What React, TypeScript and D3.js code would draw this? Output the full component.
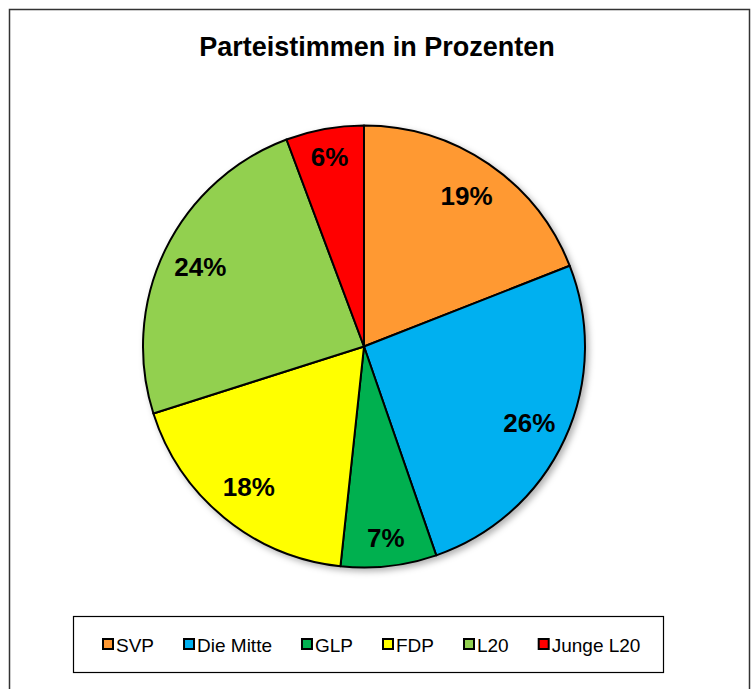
import React from "react";
import * as d3 from "d3";

const categories = ["SVP", "Die Mitte", "GLP", "FDP", "L20", "Junge L20"];
const values = [19.05, 25.65, 7.0, 18.4, 24.2, 5.7];
const colors = ["#FF9933", "#00B0F0", "#00B050", "#FFFF00", "#92D050", "#FF0000"];
const title = "Parteistimmen in Prozenten";

const W = 754;
const H = 689;
const FONT = "'Liberation Sans', Arial, Helvetica, sans-serif";

function measure(text: string, font: string): number {
  const c = document.createElement("canvas");
  const ctx = c.getContext("2d");
  if (!ctx) return text.length * 10;
  ctx.font = font;
  return ctx.measureText(text).width;
}

export default function App() {
  const cx = 364;
  const cy = 346.5;
  const R = 221;
  const total = d3.sum(values);
  const pie = d3.pie<number>().sort(null).value((d) => d);
  const arcs = pie(values);
  const arc = d3.arc<d3.PieArcDatum<number>>().innerRadius(0).outerRadius(R);
  const bigLabelArc = d3.arc<d3.PieArcDatum<number>>().innerRadius(182).outerRadius(182);
  const smallLabelArc = d3.arc<d3.PieArcDatum<number>>().innerRadius(193).outerRadius(193);
  const fmt = d3.format(".0%");

  const legendFont = `19px ${FONT}`;
  const widths = categories.map((c) => measure(c, legendFont));
  const xs: number[] = [];
  let x = 102;
  widths.forEach((w) => {
    xs.push(x);
    x += 14 + w + 29;
  });

  return (
    <svg
      width={W}
      height={H}
      style={{ position: "absolute", left: 0, top: 0, background: "#fff" }}
    >
      <defs>
        <filter id="shadow" x="-20%" y="-20%" width="140%" height="140%">
          <feDropShadow dx="3" dy="3" stdDeviation="3" floodColor="#000" floodOpacity="0.3" />
        </filter>
      </defs>
      <rect x={9.5} y={9.5} width={740} height={700} fill="#fff" stroke="#333" strokeWidth={1.5} />
      <text
        x={377}
        y={56}
        textAnchor="middle"
        fontFamily={FONT}
        fontWeight="bold"
        fontSize={27}
        fill="#000"
      >
        {title}
      </text>
      <g transform={`translate(${cx},${cy})`}>
        <g filter="url(#shadow)">
          {arcs.map((a, i) => (
            <path key={i} d={arc(a) || ""} fill={colors[i]} stroke="#000" strokeWidth={2} strokeLinejoin="round" />
          ))}
        </g>
        {arcs.map((a, i) => {
          const small = a.endAngle - a.startAngle < 0.5;
          const [lx, ly] = (small ? smallLabelArc : bigLabelArc).centroid(a);
          return (
            <text
              key={"l" + i}
              x={lx}
              y={ly}
              textAnchor="middle"
              dominantBaseline="central"
              fontFamily={FONT}
              fontWeight="bold"
              fontSize={26}
              fill="#000"
            >
              {fmt(values[i] / total)}
            </text>
          );
        })}
      </g>
      <rect x={73.5} y={616.5} width={590} height={56} fill="#fff" stroke="#000" strokeWidth={1.2} />
      {categories.map((c, i) => (
        <g key={c}>
          <rect x={xs[i] + 1} y={639} width={10} height={10} fill={colors[i]} stroke="#000" strokeWidth={2} />
          <text x={xs[i] + 14} y={652} fontFamily={FONT} fontSize={19} fill="#000">
            {c}
          </text>
        </g>
      ))}
    </svg>
  );
}
